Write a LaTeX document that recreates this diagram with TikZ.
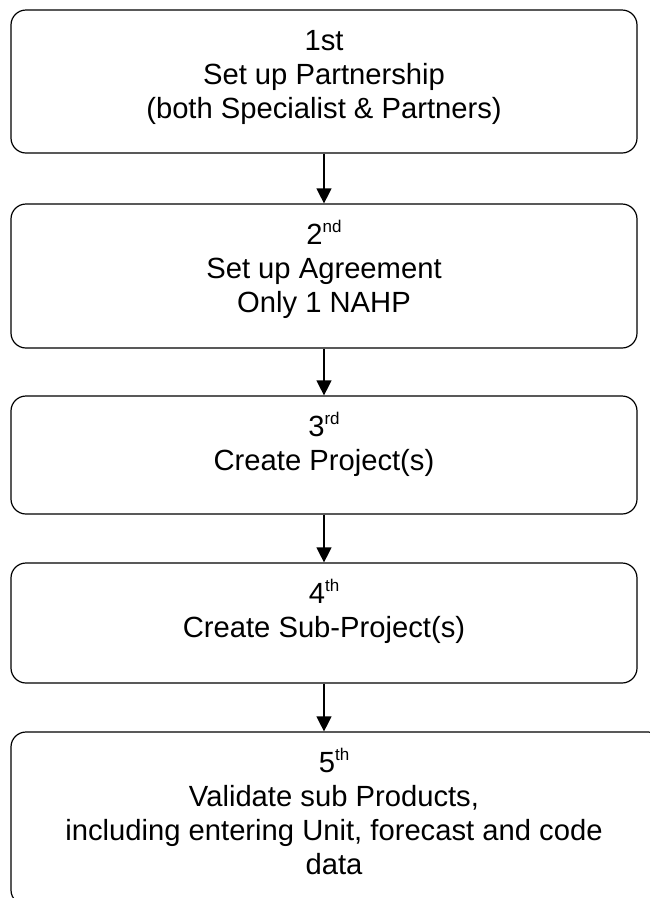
\documentclass[tikz,border=0pt]{standalone}
\usepackage{fontspec}
\setmainfont{Liberation Sans}
\usetikzlibrary{arrows.meta}

\newcommand{\ordsup}[1]{\smash{\raisebox{12.5pt}{\fontsize{17}{17}\selectfont #1}}}

\tikzset{
    stepbox/.style={draw=black, line width=1.2pt, rounded corners=15pt,
        minimum width=626pt, inner sep=0pt},
    steptext/.style={anchor=north, inner sep=0pt, align=center,
        font=\fontsize{29.2}{34}\selectfont, yshift=-21pt},
    steparrow/.style={draw=black, line width=1.2pt,
        -{Triangle[width=15pt,length=15pt]}}
}

\begin{document}
\begin{tikzpicture}[x=1pt,y=-1pt]
    \useasboundingbox (0,0) rectangle (650,898);
    \clip (0,0) rectangle (650,898);

    \node[stepbox, minimum height=143pt] (s1) at (324,81.5) {};
    \node[stepbox, minimum height=144pt] (s2) at (324,276) {};
    \node[stepbox, minimum height=118pt] (s3) at (324,455) {};
    \node[stepbox, minimum height=120pt] (s4) at (324,623) {};
    \node[stepbox, minimum height=173pt, minimum width=652pt] (s5) at (337,818.5) {};

    \node[steptext] (t1) at (s1.north) {1st\\Set up Partnership\\(both Specialist \& Partners)};
    \node[steptext] (t2) at (s2.north) {2\ordsup{nd}\\Set up Agreement\\Only 1 NAHP};
    \node[steptext] (t3) at (s3.north) {3\ordsup{rd}\\Create Project(s)};
    \node[steptext] (t4) at (s4.north) {4\ordsup{th}\\Create Sub-Project(s)};
    \node[steptext, xshift=-3pt] (t5) at (s5.north) {5\ordsup{th}\\Validate sub Products,\\including entering Unit, forecast and code\\data};

    \path (s1) edge[steparrow] (s2);
    \path (s2) edge[steparrow] (s3);
    \path (s3) edge[steparrow] (s4);
    \path (s4.south) edge[steparrow] (s4.south |- s5.north);
\end{tikzpicture}
\end{document}
